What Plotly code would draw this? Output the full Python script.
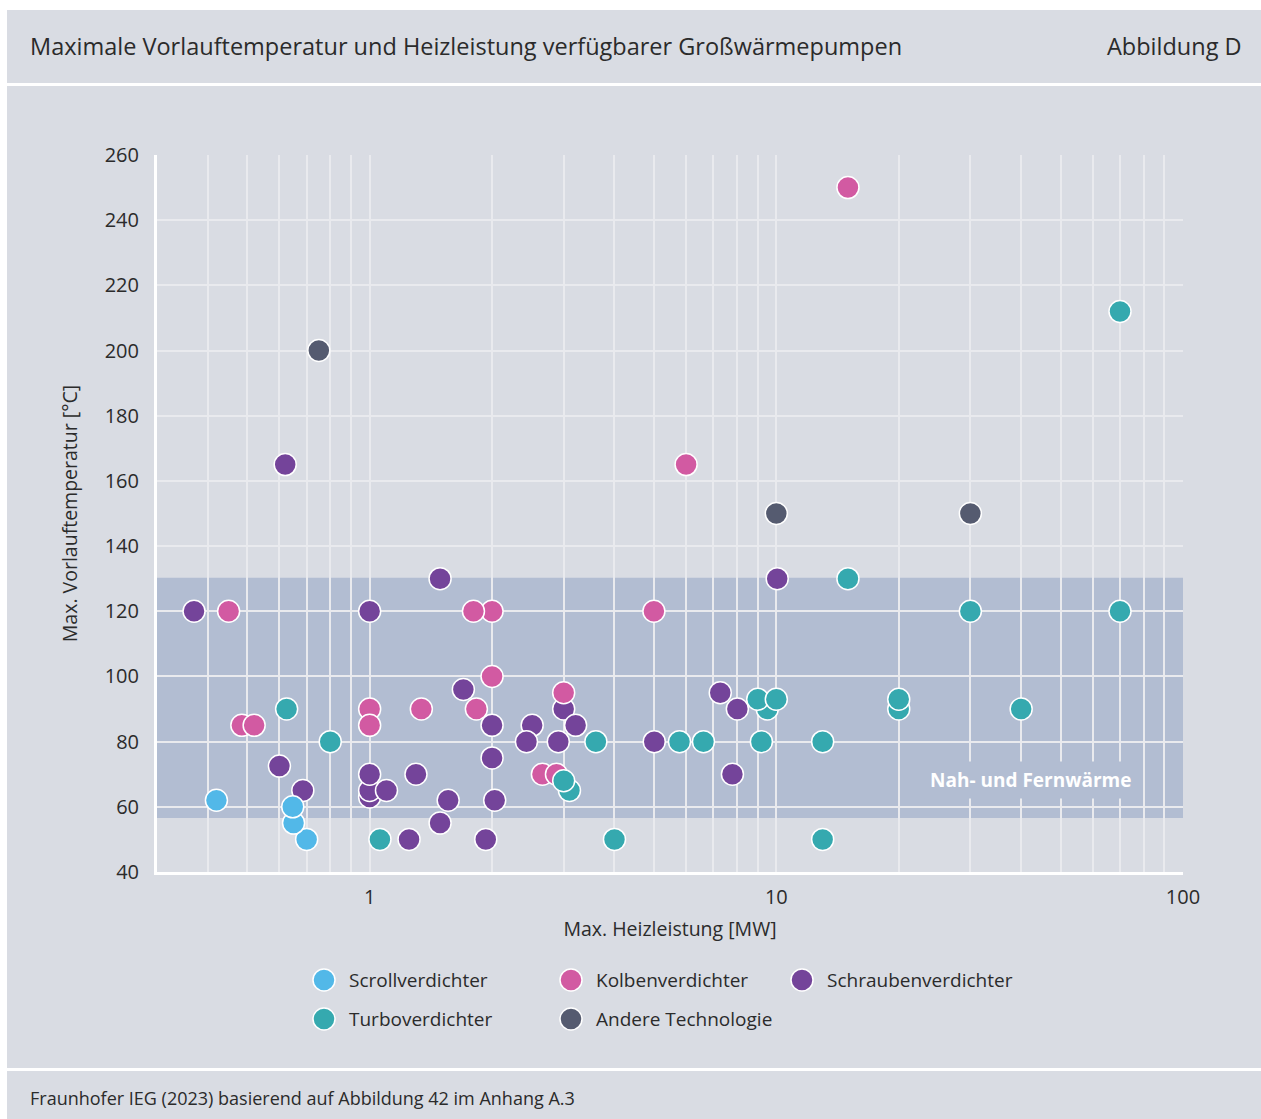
import math
import plotly.graph_objects as go

# ---------------- data ----------------
series_names = ["Scrollverdichter", "Kolbenverdichter", "Schraubenverdichter",
                "Turboverdichter", "Andere Technologie"]
series_colors = ["#52B8E8", "#D25AA2", "#74449A", "#35A9AF", "#555B70"]

scroll_x = [0.42, 0.70, 0.65, 0.647]
scroll_y = [62, 50, 55, 60]

kolben_x = [15, 6.0, 5.0, 2.0, 1.8, 0.45, 2.0, 3.0, 1.83, 1.34, 1.0, 1.0, 0.485, 0.52, 2.66, 2.88]
kolben_y = [250, 165, 120, 120, 120, 120, 100, 95, 90, 90, 90, 85, 85, 85, 70, 70]

schrauben_x = [0.62, 0.37, 1.0, 1.49, 10.05, 1.70, 7.28, 8.02, 3.0, 2.0, 2.51, 3.21,
               2.43, 2.91, 5.01, 2.0, 0.60, 1.0, 1.0, 1.0, 1.30, 7.8, 0.685, 1.10,
               1.56, 2.03, 1.49, 1.25, 1.93]
schrauben_y = [165, 120, 120, 130, 130, 96, 95, 90, 90, 85, 85, 85,
               80, 80, 80, 75, 72.5, 63, 65, 70, 70, 70, 65, 65,
               62, 62, 55, 50, 50]

turbo_x = [70, 15, 30, 70, 20, 20, 40, 9.5, 9.0, 10, 0.625, 0.80, 3.6, 5.78, 6.62,
           9.19, 13.0, 3.10, 3.0, 1.06, 4.0, 13.0]
turbo_y = [212, 130, 120, 120, 90, 93, 90, 90, 93, 93, 90, 80, 80, 80, 80,
           80, 80, 65, 68, 50, 50, 50]

andere_x = [0.75, 10, 30]
andere_y = [200, 150, 150]

# draw order of the series (index into series_names)
draw_order = [2, 1, 0, 3, 4]
series_x = [scroll_x, kolben_x, schrauben_x, turbo_x, andere_x]
series_y = [scroll_y, kolben_y, schrauben_y, turbo_y, andere_y]

band_low, band_high = 56.6, 130.3
band_label = "Nah- und Fernwärme"

x_gridvals = [0.4, 0.5, 0.6, 0.7, 0.8, 0.9, 1, 2, 3, 4, 5, 6, 7, 8, 9,
              10, 20, 30, 40, 50, 60, 70, 80, 90, 100]
x_labeled = [1, 10, 100]
y_ticks = [40, 60, 80, 100, 120, 140, 160, 180, 200, 220, 240, 260]

title_text = "Maximale Vorlauftemperatur und Heizleistung verfügbarer Großwärmepumpen"
figure_tag = "Abbildung D"
source_text = "Fraunhofer IEG (2023) basierend auf Abbildung 42 im Anhang A.3"
x_title = "Max. Heizleistung [MW]"
y_title = "Max. Vorlauftemperatur [°C]"

# ---------------- layout helpers ----------------
W, H = 1261, 1119
PANEL = "#D9DCE3"
BAND = "#B2BDD2"
GRID = "#E9EAEE"
TEXT = "#2B2B2B"
FONT = "Open Sans"


def px(x):
    return x / W


def py(y):
    return 1 - y / H


plot_l, plot_r, plot_t, plot_b = 157, 1183, 155, 872

fig = go.Figure()

for i in draw_order:
    fig.add_trace(go.Scatter(
        x=series_x[i], y=series_y[i], mode="markers", name=series_names[i],
        marker=dict(size=22, color=series_colors[i], line=dict(color="white", width=1.5)),
        showlegend=False, xaxis="x", yaxis="y",
    ))

# custom legend (larger markers than plotly's legend allows)
legend_pos = [(324, 980), (571, 980), (802, 980), (324, 1019), (571, 1019)]
fig.add_trace(go.Scatter(
    x=[p[0] for p in legend_pos], y=[p[1] for p in legend_pos], mode="markers",
    marker=dict(size=22, color=series_colors, line=dict(color="white", width=1.5)),
    showlegend=False, xaxis="x2", yaxis="y2", hoverinfo="skip",
))

annotations = []
for (lx, ly), name in zip(legend_pos, series_names):
    annotations.append(dict(
        x=px(lx + 23), y=py(ly), xref="paper", yref="paper", text=name,
        showarrow=False, xanchor="left", yanchor="middle",
        font=dict(family=FONT, size=19, color=TEXT),
    ))

annotations += [
    dict(x=px(28), y=py(46), xref="paper", yref="paper", text=title_text,
         showarrow=False, xanchor="left", yanchor="middle",
         font=dict(family=FONT, size=23.5, color=TEXT)),
    dict(x=px(1244), y=py(46), xref="paper", yref="paper", text=figure_tag,
         showarrow=False, xanchor="right", yanchor="middle",
         font=dict(family=FONT, size=23.5, color=TEXT)),
    dict(x=px(28), y=py(1098), xref="paper", yref="paper", text=source_text,
         showarrow=False, xanchor="left", yanchor="middle",
         font=dict(family=FONT, size=18, color=TEXT)),
    dict(x=px(1030), y=py(780), xref="paper", yref="paper", text="<b>" + band_label + "</b>",
         showarrow=False, xanchor="center", yanchor="middle", bgcolor=BAND, borderpad=5,
         font=dict(family=FONT, size=19, color="white")),
]

shapes = [
    # white outer border (top & left)
    dict(type="rect", xref="paper", yref="paper", x0=0, x1=1, y0=py(10), y1=1,
         fillcolor="white", line=dict(width=0), layer="below"),
    dict(type="rect", xref="paper", yref="paper", x0=0, x1=px(7), y0=0, y1=1,
         fillcolor="white", line=dict(width=0), layer="below"),
    # separators
    dict(type="line", xref="paper", yref="paper", x0=px(7), x1=1, y0=py(84.5), y1=py(84.5),
         line=dict(color="white", width=3)),
    dict(type="line", xref="paper", yref="paper", x0=px(7), x1=1, y0=py(1069.5), y1=py(1069.5),
         line=dict(color="white", width=3)),
    # district heating band
    dict(type="rect", xref="x domain", yref="y", x0=0, x1=1, y0=band_low, y1=band_high,
         fillcolor=BAND, line=dict(width=0), layer="below"),
]

fig.update_layout(
    width=W, height=H,
    margin=dict(l=0, r=0, t=0, b=0),
    paper_bgcolor=PANEL, plot_bgcolor=PANEL,
    font=dict(family=FONT, color=TEXT),
    showlegend=False,
    xaxis=dict(
        type="log", range=[math.log10(0.3), 2],
        domain=[px(plot_l), px(plot_r)],
        anchor="y",
        tickvals=x_gridvals,
        ticktext=[(str(v) if v in x_labeled else "") for v in x_gridvals],
        showgrid=True, gridcolor=GRID, gridwidth=2,
        showline=True, linecolor="white", linewidth=3,
        zeroline=False, ticks="", ticklabelstandoff=5,
        tickfont=dict(family=FONT, size=20, color=TEXT),
        title=dict(text=x_title, standoff=14, font=dict(family=FONT, size=19.5, color=TEXT)),
        automargin=False,
    ),
    yaxis=dict(
        range=[40, 260],
        domain=[py(plot_b), py(plot_t)],
        anchor="x",
        tickvals=y_ticks,
        showgrid=True, gridcolor=GRID, gridwidth=2,
        showline=True, linecolor="white", linewidth=3,
        zeroline=False, ticks="", ticklabelstandoff=11,
        tickfont=dict(family=FONT, size=20, color=TEXT),
        title=dict(text=y_title, standoff=22, font=dict(family=FONT, size=19.5, color=TEXT)),
        automargin=False,
    ),
    xaxis2=dict(domain=[0, 1], range=[0, W], visible=False, anchor="y2", fixedrange=True),
    yaxis2=dict(domain=[0, py(950)], range=[H, 950], visible=False, anchor="x2", fixedrange=True),
    annotations=annotations,
    shapes=shapes,
)

fig.write_html("out.html", config={"displayModeBar": False},
               post_script="document.body.style.margin='0';")
